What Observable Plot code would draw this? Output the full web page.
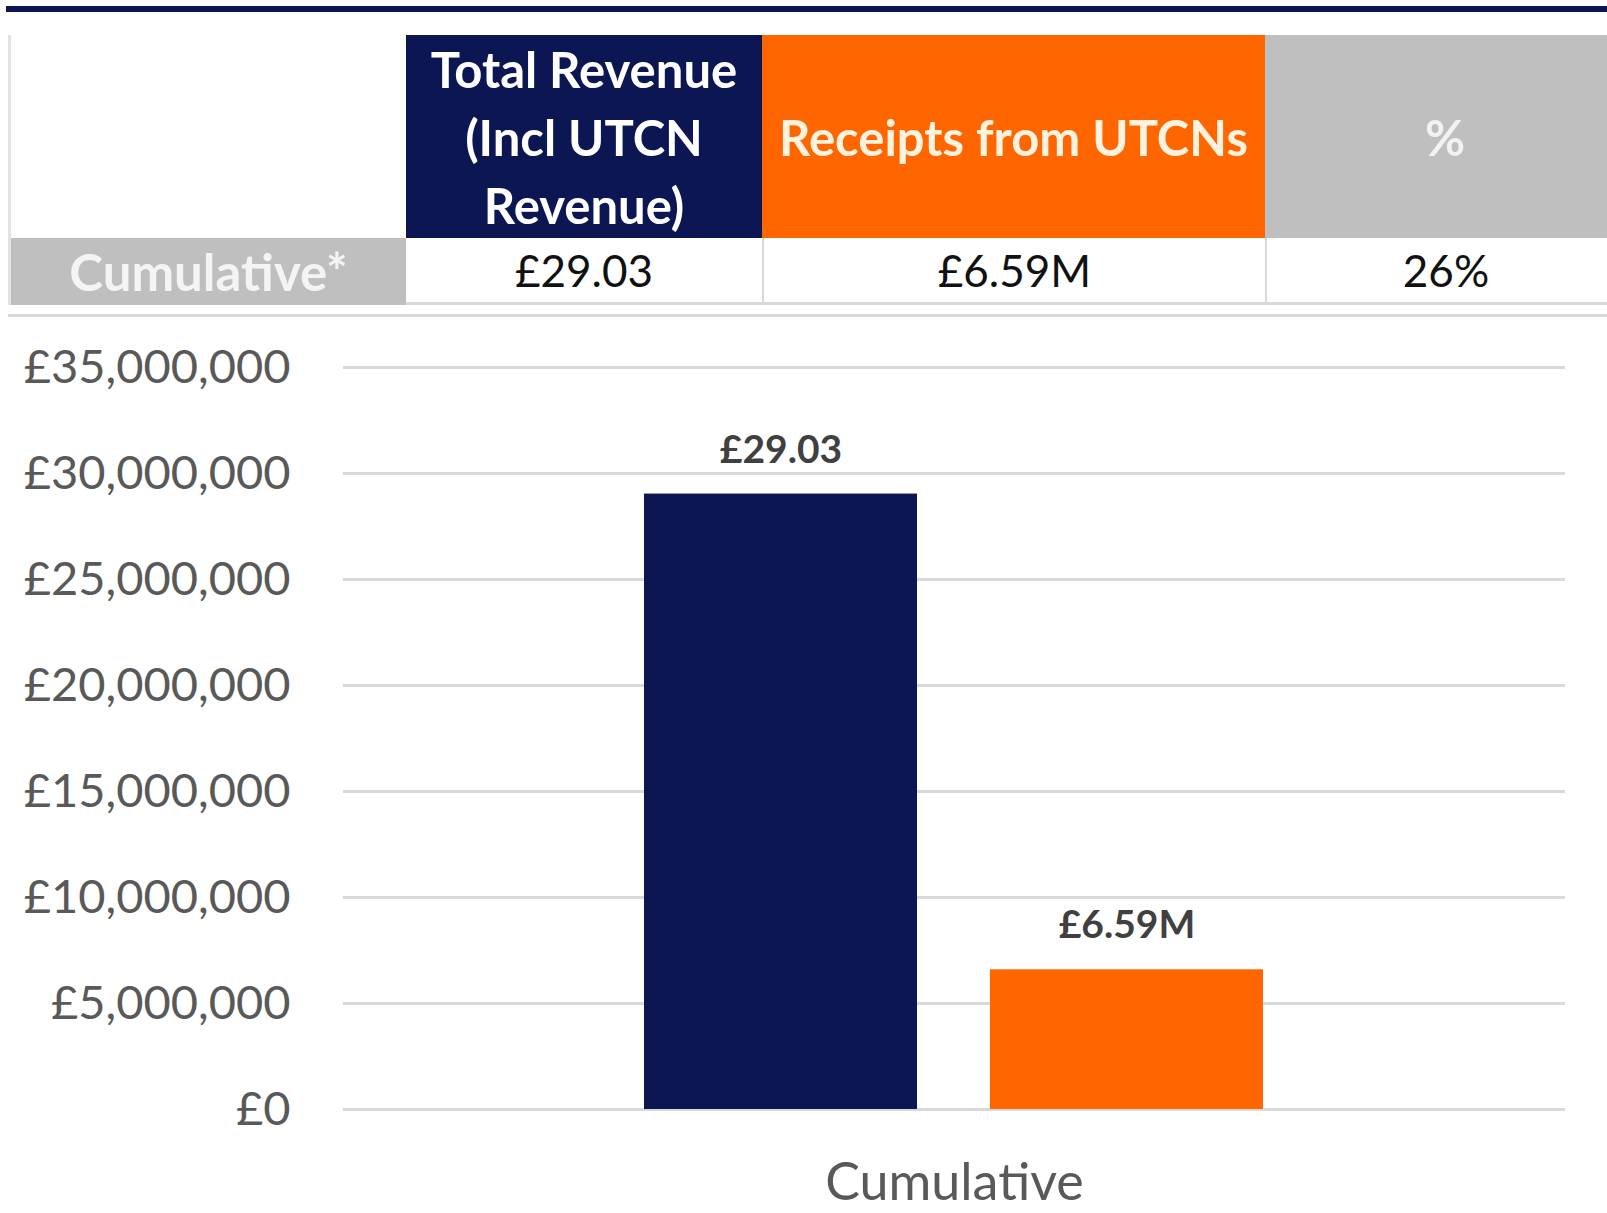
<!DOCTYPE html>
<html>
<head>
<meta charset="utf-8">
<script src="https://cdn.jsdelivr.net/npm/d3@7"></script>
<script src="https://cdn.jsdelivr.net/npm/@observablehq/plot@0.6"></script>
<style>
  html, body { margin: 0; padding: 0; background: #fff; }
  body { width: 1607px; height: 1213px; position: relative; overflow: hidden; font-family: Lato, "Noto Sans", sans-serif; }
  .abs { position: absolute; box-sizing: border-box; }
  .cell { display: flex; flex-direction: column; align-items: center; justify-content: center; text-align: center; }
</style>
</head>
<body>
<div id="root"></div>
<script>
// ---- data ----
const seriesNames = ["Total Revenue (Incl UTCN Revenue)", "Receipts from UTCNs"];
const headerLines = [["Total Revenue", "(Incl UTCN", "Revenue)"], ["Receipts from UTCNs"], ["%"]];
const rowLabel = "Cumulative*";
const tableValues = ["£29.03", "£6.59M", "26%"];
const categories = ["Cumulative"];
const values = [29030000, 6590000];
const barLabels = ["£29.03", "£6.59M"];
const yTicks = [0, 5000000, 10000000, 15000000, 20000000, 25000000, 30000000, 35000000];

// ---- styles ----
const navy = "#0b1652", orange = "#ff6600", grey = "#bfbfbf", lightLine = "#d9d9d9";
const headerFills = [navy, orange, grey];
const headerText = ["#ffffff", "#fff3e0", "#f2f2f2"];
const colPadLeft = [0, 0, 18];

const root = document.getElementById("root");
function box(style, html) {
  const d = document.createElement("div");
  d.className = "abs";
  Object.assign(d.style, style);
  if (html !== undefined) d.innerHTML = html;
  root.appendChild(d);
  return d;
}

// top navy rule
box({left: "6px", top: "6px", width: "1601px", height: "6px", background: navy});

// table
const colEdges = [8, 406, 762, 1265, 1607];
const headTop = 35, headH = 203, rowTop = 238, rowH = 67;
// left border
box({left: "8px", top: headTop + "px", width: "3px", height: (rowTop + rowH - headTop) + "px", background: "#e3e3e3"});
headerLines.forEach((lines, i) => {
  const c = box({left: colEdges[i + 1] + "px", top: headTop + "px", width: (colEdges[i + 2] - colEdges[i + 1]) + "px",
    height: headH + "px", background: headerFills[i], color: headerText[i], fontWeight: "700", fontSize: "49px",
    lineHeight: "68px", paddingLeft: colPadLeft[i] + "px"});
  c.classList.add("cell");
  c.innerHTML = lines.map(l => `<div style="white-space:nowrap">${l}</div>`).join("");
});
// row label
const rl = box({left: "11px", top: rowTop + "px", width: (colEdges[1] - 11) + "px", height: rowH + "px",
  background: grey, color: "#f4f4f4", fontWeight: "700", fontSize: "51px"}, rowLabel);
rl.classList.add("cell");
tableValues.forEach((v, i) => {
  const c = box({left: colEdges[i + 1] + "px", top: rowTop + "px", width: (colEdges[i + 2] - colEdges[i + 1]) + "px",
    height: rowH + "px", color: "#111", fontSize: "44px", borderBottom: "3px solid " + lightLine,
    borderLeft: i > 0 ? "2px solid " + lightLine : "none", paddingLeft: colPadLeft[i] + "px"}, v);
  c.classList.add("cell");
});
// separator line under table
box({left: "8px", top: "314px", width: "1599px", height: "3px", background: lightLine});

// ---- chart ----
const data = seriesNames.map((s, i) => ({category: categories[0], series: s, value: values[i], label: barLabels[i]}));
const fmt = d3.format(",");
const chart = Plot.plot({
  width: 1607,
  height: 893,
  marginLeft: 343,
  marginRight: 42,
  marginTop: 47,
  marginBottom: 104,
  style: {fontFamily: "Lato, 'Noto Sans', sans-serif", background: "transparent"},
  fx: {domain: categories, padding: 0, label: null},
  x: {domain: seriesNames, paddingInner: 0.21, paddingOuter: 0.866, axis: null},
  y: {domain: [0, 35000000], label: null},
  color: {domain: seriesNames, range: [navy, orange]},
  marks: [
    Plot.gridY(yTicks, {stroke: lightLine, strokeOpacity: 1, strokeWidth: 3}),
    Plot.axisY(yTicks, {tickSize: 0, tickPadding: 53, tickFormat: d => "£" + fmt(d), fontSize: 47, fill: "#595959", label: null}),
    Plot.barY(data, {fx: "category", x: "series", y: "value", fill: "series"}),
    Plot.text(data, {fx: "category", x: "series", y: "value", text: "label", dy: -44, lineAnchor: "middle",
      fontSize: 39, fontWeight: "bold", fill: "#404040"}),
    Plot.axisFx({anchor: "bottom", tickSize: 0, tickPadding: 54, fontSize: 52, fill: "#595959", label: null})
  ]
});
const holder = box({left: "0px", top: "320px"});
holder.appendChild(chart);
</script>
</body>
</html>
